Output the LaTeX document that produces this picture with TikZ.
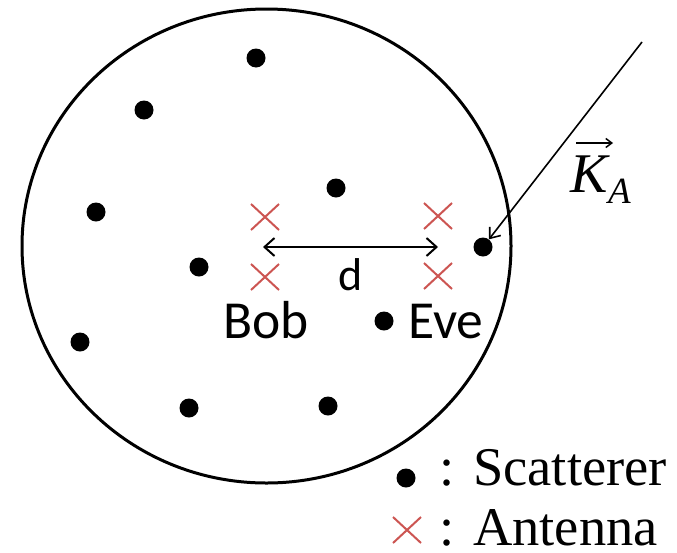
\documentclass[tikz,border=0pt]{standalone}
\usepackage{fontspec}
\usetikzlibrary{arrows.meta}
\newfontfamily\calib{Carlito}
\newfontfamily\tms{Liberation Serif}
\definecolor{xred}{RGB}{204,85,82}
\tikzset{
  scat/.style={circle,fill=black,inner sep=0pt,minimum size=19pt},
  ant/.pic={\draw[xred,line width=2pt] (-14,-13) -- (14,13) (-14,13) -- (14,-13);},
  lbl/.style={font=\calib\fontsize{53.5}{60}\selectfont,inner sep=0pt,anchor=base west},
  leg/.style={font=\tms\fontsize{54.5}{60}\selectfont,inner sep=0pt,anchor=base west},
  tipv/.style={-{Straight Barb[length=9pt,width=14pt,line width=1.6pt]}}
}
\begin{document}
\begin{tikzpicture}[x=1pt,y=-1pt]
\useasboundingbox (0,0) rectangle (677,552);
\draw[line width=3pt] (266.5,246) ellipse [x radius=244.5, y radius=237];
% scatterers
\node[scat] (s1) at (256,58) {};
\node[scat] (s2) at (144,110) {};
\node[scat] (s3) at (336,188) {};
\node[scat] (s4) at (96,212) {};
\node[scat] (s5) at (199,267) {};
\node[scat] (s6) at (483,247) {};
\node[scat] (s7) at (384,321) {};
\node[scat] (s8) at (80,342) {};
\node[scat] (s9) at (189,408) {};
\node[scat] (s10) at (328,406) {};
% antennas
\pic at (265,217) {ant};
\pic at (265,277) {ant};
\pic at (438,216) {ant};
\pic at (438,276) {ant};
\coordinate (dl) at (263,247);
\coordinate (dr) at (438,247);
\draw[line width=2pt,{Straight Barb[length=10pt,width=18pt,line width=2pt]}-{Straight Barb[length=10pt,width=18pt,line width=2pt]}] (dl) -- (dr);
\node[font=\calib\fontsize{46}{52}\selectfont,inner sep=0pt,anchor=base] (d) at (351,290) {d};
\node[lbl] (bob) at (223,338) {Bob};
\node[lbl] (eve) at (408,338) {Eve};
% incoming wave
\coordinate (ktop) at (642,42);
\draw[line width=1.6pt,tipv] (ktop) -- (s6);
\node[font=\tms\itshape\fontsize{56}{60}\selectfont,inner sep=0pt,anchor=base west] (kk) at (570,192) {K};
\node[font=\tms\itshape\fontsize{37}{40}\selectfont,inner sep=0pt,anchor=base west] (ka) at (608,203) {A};
\coordinate (av1) at (576,143);
\coordinate (av2) at (613,143);
\draw[line width=1.5pt,-{Straight Barb[length=6pt,width=9pt,line width=1.5pt]}] (av1) -- (av2);
% legend
\node[scat] (ls) at (406,478) {};
\pic at (407,530) {ant};
\node[leg,anchor=base] (c1) at (447,485) {:};
\node[leg] (lsc) at (473,485) {Scatterer};
\node[leg,anchor=base] (c2) at (447,545) {:};
\node[leg] (lan) at (473,545) {Antenna};
\end{tikzpicture}
\end{document}
